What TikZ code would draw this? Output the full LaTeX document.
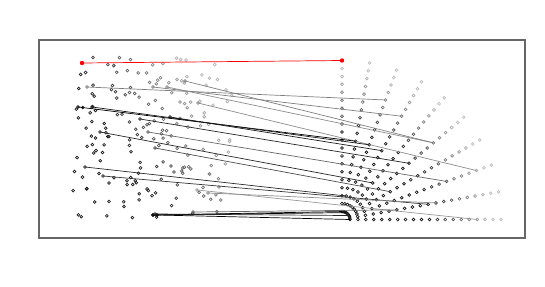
\documentclass[tikz,border=0pt]{standalone}
\usepackage{amsfonts,amssymb,amsmath}
\usepackage{xcolor}
\usepackage{tikz}
\usetikzlibrary{arrows.meta}

\begin{document}
\begin{tikzpicture}[x=0.02cm,y=-0.02cm,line width=0.4pt]
\useasboundingbox(0,0)rectangle(545,287);
\draw[black!60,line width=0.6pt](39,40)rectangle(525,238);
% polar grid on the right
\foreach \a in {0,10,...,90}{
\foreach \k in {1,...,20}{
\pgfmathsetmacro\r{7.95*\k}
\pgfmathtruncatemacro\dk{90-min(65,max(0,(\r-85)*1.0))}
\coordinate(g-\a-\k)at({342+\r*cos(\a)},{219.5-\r*sin(\a)});
\draw[black!\dk](g-\a-\k)circle[radius=1.4];
}}
% random cloud on the left
\pgfmathsetseed{2024}
\foreach \i in {1,...,180}{
\pgfmathsetmacro\px{68+164*rnd}
\pgfmathsetmacro\py{57+161*rnd}
\pgfmathtruncatemacro\dk{88-min(60,max(0,(\px-120)*0.5+(150-\py)*0.3))}
\draw[black!\dk](\px,\py)circle[radius=1.4];
}
% matched pairs
\foreach \x/\y/\t/\c [count=\i] in {87/87/70-16/black!50,153/87/60-15/black!50,167/87/40-15/black!45,
185/81/40-15/black!50,198/103/20-18/black!45,78/107/80-10/black,92/107/70-10/black!90,
170/117/60-10/black!90,100/132/50-6/black!85,140/119/40-11/black!85,148/132/20-14/black!60,
155/148/30-7/black!70,85/167/80-3/black!85,103/176/10-11/black!80,197/190/0-17/black!40,
208/193/10-12/black!45,193/212/10-7/black!60,153/215/90-1/black,153/215/60-1/black,
155/214/30-1/black!85,157/215/0-1/black}{
\coordinate(p\i)at(\x,\y);
\draw[\c](p\i)--(g-\t);
\draw[\c](p\i)circle[radius=1.4];
}
\coordinate(p0)at(82,63);
\draw[red](p0)--(g-90-20);
\fill[red](p0)circle[radius=2.2];
\fill[red](g-90-20)circle[radius=2.2];
\end{tikzpicture}
\end{document}
